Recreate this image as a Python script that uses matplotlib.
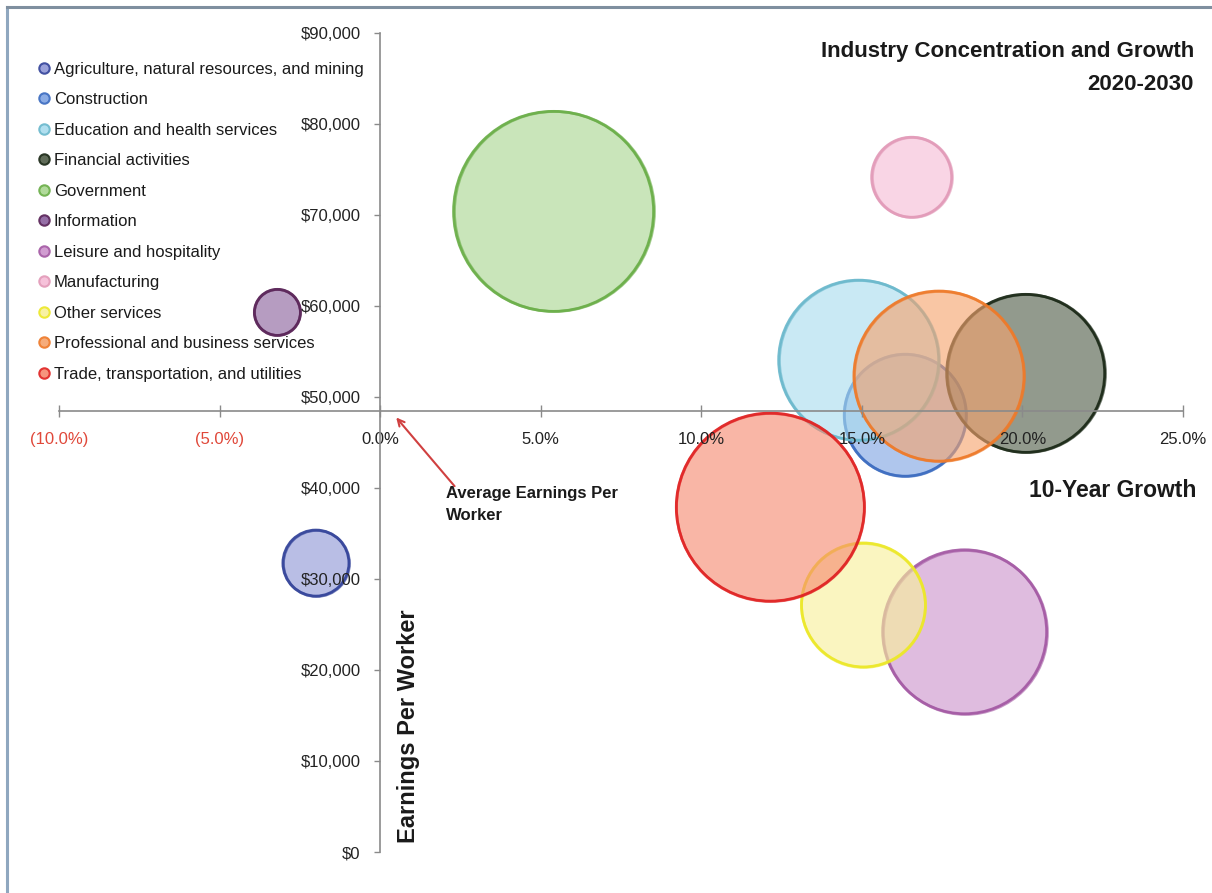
import matplotlib
matplotlib.use("Agg")
import matplotlib.pyplot as plt
from matplotlib.lines import Line2D
from matplotlib.ticker import FuncFormatter, FixedLocator

plt.rcParams['font.family'] = ['Liberation Sans', 'DejaVu Sans']

industries = [
    "Agriculture, natural resources, and mining",
    "Construction",
    "Education and health services",
    "Financial activities",
    "Government",
    "Information",
    "Leisure and hospitality",
    "Manufacturing",
    "Other services",
    "Professional and business services",
    "Trade, transportation, and utilities",
]
growth_pct = [-2.0, 16.35, 14.9, 20.1, 5.4, -3.2, 18.2, 16.55, 15.05, 17.4, 12.15]
earnings = [31750, 48000, 54050, 52600, 70400, 59300, 24200, 74150, 27150, 52300, 37900]
bubble_size = [10.9, 37.2, 64.0, 62.4, 100.0, 5.3, 67.2, 16.0, 38.4, 72.3, 88.4]

face_colors = ["#8f97d6", "#7fa3e3", "#a9dcee", "#4f5c47", "#a9d690", "#8a5f9c",
               "#cc93cc", "#f6bcd6", "#f8f09a", "#f6a36d", "#f68a70"]
edge_colors = ["#34449a", "#3c6cc0", "#6ab8cc", "#1c2a18", "#6aae48", "#5a2458",
               "#a45aa4", "#e29ab8", "#ece828", "#ee7a2a", "#e02424"]

avg_earnings = 48450
x_ticks = [-10, -5, 0, 5, 10, 15, 20, 25]
y_ticks = [0, 10000, 20000, 30000, 40000, 50000, 60000, 70000, 80000, 90000]

W, H = 1212, 893
fig = plt.figure(figsize=(W / 100, H / 100), dpi=100)
ax = fig.add_axes([59 / W, 1 - 852 / H, (1183 - 59) / W, (852 - 33) / H])
ax.set_xlim(-10, 25)
ax.set_ylim(0, 90000)

# frame border
fig.add_artist(Line2D([7 / W, 7 / W], [0, 1 - 7 / H], color="#8fa7bf", lw=2.2, transform=fig.transFigure))
fig.add_artist(Line2D([7 / W, 1], [1 - 7 / H, 1 - 7 / H], color="#7f8f9f", lw=2.2, transform=fig.transFigure))

# bubbles: s in pt^2; radius (px) = 10*sqrt(size)
scale = (2 * 10 * 0.72) ** 2
for i in range(len(industries)):
    ax.scatter(growth_pct[i], earnings[i], s=bubble_size[i] * scale,
               facecolor=face_colors[i], edgecolor=edge_colors[i], linewidth=2.0,
               alpha=0.62, zorder=1 + i * 0.01, clip_on=False)
    ax.scatter(growth_pct[i], earnings[i], s=bubble_size[i] * scale,
               facecolor="none", edgecolor=edge_colors[i], linewidth=2.0,
               alpha=0.9, zorder=1 + i * 0.01, clip_on=False)

for sp in ["top", "right"]:
    ax.spines[sp].set_visible(False)
ax.spines["left"].set_position(("data", 0))
ax.spines["bottom"].set_position(("data", avg_earnings))
for sp in ["left", "bottom"]:
    ax.spines[sp].set_color("#8a8a8a")
    ax.spines[sp].set_linewidth(1.2)

ax.xaxis.set_major_locator(FixedLocator(x_ticks))
ax.yaxis.set_major_locator(FixedLocator(y_ticks))
ax.xaxis.set_major_formatter(FuncFormatter(lambda v, p: f"({abs(v):.1f}%)" if v < 0 else f"{v:.1f}%"))
ax.yaxis.set_major_formatter(FuncFormatter(lambda v, p: f"${v:,.0f}"))
ax.tick_params(axis="x", direction="inout", length=8, width=1, color="#8a8a8a",
               labelsize=12, pad=11, labelcolor="#222222")
ax.tick_params(axis="y", direction="out", length=4, width=1, color="#8a8a8a",
               labelsize=12, pad=10, labelcolor="#222222")
for lbl, v in zip(ax.get_xticklabels(), x_ticks):
    if v < 0:
        lbl.set_color("#e0483a")

# legend
handles = [Line2D([0], [0], marker="o", linestyle="none", markersize=7.5,
                  markerfacecolor=face_colors[i], markeredgecolor=edge_colors[i],
                  markeredgewidth=1.5, alpha=0.9) for i in range(len(industries))]
leg = fig.legend(handles, industries, loc="upper left", bbox_to_anchor=(27 / W, 1 - 55 / H),
                 frameon=False, fontsize=12, handletextpad=0.0, labelspacing=0.93,
                 handlelength=1.2, borderaxespad=0)
for t in leg.get_texts():
    t.set_color("#1a1a1a")

fig.text(1194 / W, 1 - 52 / H, "Industry Concentration and Growth", ha="right", va="center",
         fontsize=16, fontweight="bold", color="#1a1a1a")
fig.text(1194 / W, 1 - 85 / H, "2020-2030", ha="right", va="center",
         fontsize=16, fontweight="bold", color="#1a1a1a")
fig.text(1196 / W, 1 - 490 / H, "10-Year Growth", ha="right", va="center",
         fontsize=16.5, fontweight="bold", color="#1a1a1a")
fig.text(408 / W, 1 - 726 / H, "Earnings Per Worker", ha="center", va="center", rotation=90,
         fontsize=17, fontweight="bold", color="#1a1a1a")

ax.annotate("Average Earnings Per\nWorker", xy=(0.5, avg_earnings - 700), xycoords="data",
            xytext=(2.05, 40200), textcoords="data", ha="left", va="top",
            fontsize=12, fontweight="bold", color="#1a1a1a", linespacing=1.55,
            arrowprops=dict(arrowstyle="->", color="#d04040", lw=1.5,
                            shrinkA=0, shrinkB=0, relpos=(0.05, 1.0),
                            patchA=None), zorder=10)

fig.savefig("out.png", dpi=100, facecolor="white")
